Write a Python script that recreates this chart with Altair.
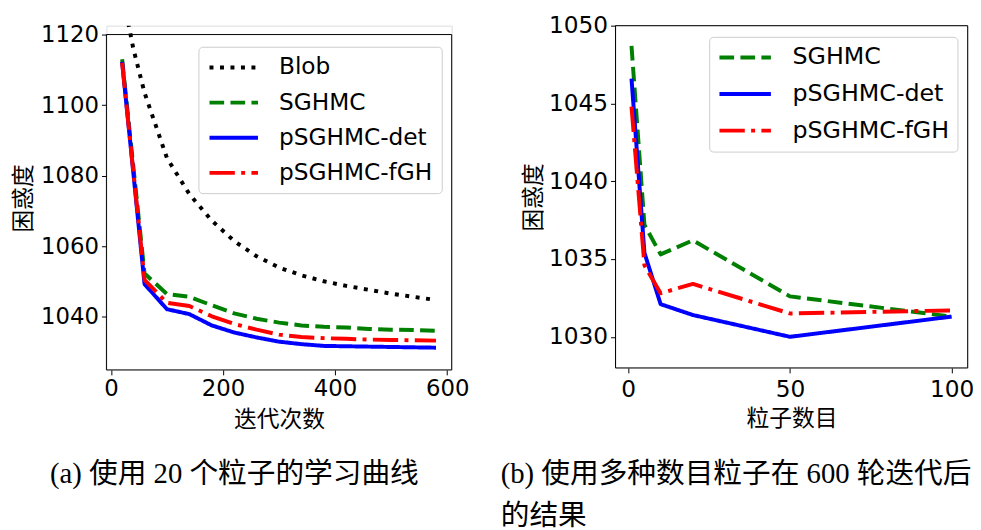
import altair as alt
import pandas as pd

# ---------------- data: panel (a) learning curves with 20 particles ----------------
iters = [20, 60, 100, 140, 180, 220, 260, 300, 340, 380, 420, 460, 500, 540, 580]
blob_iters = [20, 40, 60, 100, 140, 180, 220, 260, 300, 340, 380, 420, 460, 500, 540, 580]
blob_a = [1132, 1116, 1103.5, 1085, 1074.8, 1067.3, 1061.5, 1057.2, 1054, 1051.8,
          1050.1, 1048.8, 1047.7, 1046.6, 1045.7, 1044.8]
sghmc_a = [1113, 1052.3, 1046.5, 1045.7, 1043.3, 1041, 1039.5, 1038.4, 1037.6, 1037.2,
           1037.0, 1036.6, 1036.4, 1036.3, 1036.1]
det_a = [1112.3, 1049.3, 1042.2, 1040.8, 1037.6, 1035.6, 1034.2, 1033.0, 1032.3, 1031.8,
         1031.7, 1031.6, 1031.5, 1031.4, 1031.3]
fgh_a = [1112, 1050.5, 1044, 1043.1, 1040.2, 1038, 1036.4, 1035, 1034.3, 1034.0,
         1033.8, 1033.6, 1033.5, 1033.4, 1033.3]

# ---------------- data: panel (b) different numbers of particles ----------------
particles = [1, 5, 10, 20, 50, 100]
sghmc_b = [1048.7, 1037.2, 1035.3, 1036.2, 1032.6, 1031.3]
det_b = [1046.6, 1035.4, 1032.1, 1031.4, 1030.0, 1031.3]
fgh_b = [1044.8, 1034.6, 1032.8, 1033.4, 1031.5, 1031.7]

series_a = ["Blob", "SGHMC", "pSGHMC-det", "pSGHMC-fGH"]
series_b = ["SGHMC", "pSGHMC-det", "pSGHMC-fGH"]
xticks_a = [0, 200, 400, 600]
yticks_a = [1040, 1060, 1080, 1100, 1120]
xticks_b = [0, 50, 100]
yticks_b = [1030, 1035, 1040, 1045, 1050]

caption_a = ["(a) 使用 20 个粒子的学习曲线"]
caption_b = ["(b) 使用多种数目粒子在 600 轮迭代后", "的结果"]
ytitle = "困惑度"
xtitle_a = "迭代次数"
xtitle_b = "粒子数目"

# ---------------- styles ----------------
color_map = {"Blob": "black", "SGHMC": "green", "pSGHMC-det": "blue", "pSGHMC-fGH": "red"}
dash_map = {"Blob": [4, 6.6], "SGHMC": [14.8, 6.4], "pSGHMC-det": [1, 0],
            "pSGHMC-fGH": [25.6, 6.4, 4, 6.4]}

# ---------------- tables ----------------
rows_a = []
for name, xs, ys in [("Blob", blob_iters, blob_a), ("SGHMC", iters, sghmc_a),
                     ("pSGHMC-det", iters, det_a), ("pSGHMC-fGH", iters, fgh_a)]:
    for x, y in zip(xs, ys):
        rows_a.append({"x": x, "y": y, "series": name})
df_a = pd.DataFrame(rows_a)

rows_b = []
for name, ys in [("SGHMC", sghmc_b), ("pSGHMC-det", det_b), ("pSGHMC-fGH", fgh_b)]:
    for x, y in zip(particles, ys):
        rows_b.append({"x": x, "y": y, "series": name})
df_b = pd.DataFrame(rows_b)

# axis limits (frame)
xlim_a = [-8, 608]
ylim_a = [1025, 1120]
ytop_a = 1122.52  # a little head-room above the frame for the clipped Blob curve
xlim_b = [-3.95, 104.95]
ylim_b = [1028, 1050]

W_A, H_A = 349, 348
W_B, H_B = 356, 346

# legend sample: a horizontal stroke from -r to 4r (r = sqrt(size)/2)
SYMBOL_PATH = "M-1,0H4"

def axis(values, title, label_size, title_pad, label_pad):
    return alt.Axis(values=values, title=title, format="d", tickSize=5, tickColor="black", tickWidth=1,
                    labelFont="DejaVu Sans", labelColor="black", labelFontSize=label_size,
                    labelPadding=label_pad, labelFlush=False, labelOverlap=False,
                    titleFont="Noto Sans CJK SC", titleFontSize=23, titleFontWeight="normal",
                    titleColor="black", titlePadding=title_pad, grid=False, domain=False)

def legend(lx, ly, size, sym_len, row_pad, pad, offset):
    r = sym_len / 5.0
    return alt.Legend(orient="none", legendX=lx, legendY=ly, title=None,
                      labelFontSize=size, labelFont="DejaVu Sans", labelColor="black",
                      symbolType=SYMBOL_PATH, symbolSize=(2 * r) ** 2, symbolStrokeWidth=4,
                      labelOffset=offset + sym_len - 2 * r, padding=pad, rowPadding=row_pad,
                      fillColor="white", strokeColor="#cccccc", cornerRadius=4)

def panel(df, names, xlim, ylim, ytop, xticks, yticks, xtitle, width, height,
          lab_size, leg, ytitle_pad, xlabel_pad, xtitle_pad, captions, cap_x, cap_ys):
    xs = alt.Scale(domain=xlim, nice=False, zero=False)
    ys = alt.Scale(domain=[ylim[0], ytop], nice=False, zero=False)
    xax = axis(xticks, xtitle, lab_size, xtitle_pad, xlabel_pad)
    yax = axis(yticks, ytitle, lab_size, ytitle_pad, 3)
    lines = alt.Chart(df).mark_line(strokeWidth=4, clip=True, strokeJoin="round").encode(
        x=alt.X("x:Q", scale=xs, axis=xax),
        y=alt.Y("y:Q", scale=ys, axis=yax),
        color=alt.Color("series:N", scale=alt.Scale(domain=names, range=[color_map[n] for n in names]),
                        legend=leg),
        strokeDash=alt.StrokeDash("series:N", scale=alt.Scale(domain=names, range=[dash_map[n] for n in names]),
                                  legend=leg),
    )
    frame_df = pd.DataFrame({"x1": [xlim[0]], "x2": [xlim[1]], "y1": [ylim[0]], "y2": [ylim[1]]})
    frame = alt.Chart(frame_df).mark_rect(fill="transparent", stroke="black", strokeWidth=1).encode(
        x=alt.X("x1:Q", scale=xs, axis=xax), x2="x2:Q",
        y=alt.Y("y1:Q", scale=ys, axis=yax), y2="y2:Q",
    )
    layers = [lines, frame]
    for line_text, cy in zip(captions, cap_ys):
        layers.append(alt.Chart(pd.DataFrame({"caption": [line_text]})).mark_text(
            align="left", baseline="top", font="Liberation Serif, Noto Sans CJK SC", fontSize=29,
            color="black",
        ).encode(text="caption:N", x=alt.value(cap_x), y=alt.value(cy)))
    return alt.layer(*layers).properties(width=width, height=height)

left = panel(df_a, series_a, xlim_a, ylim_a, ytop_a, xticks_a, yticks_a, xtitle_a, W_A, H_A, 23,
             legend(93, 21.3, 23.5, 49, 11.5, 9, 19), 5, 3, 8, caption_a, -57, [439])
right = panel(df_b, series_b, xlim_b, ylim_b, ylim_b[1], xticks_b, yticks_b, xtitle_b, W_B, H_B, 23.5,
              legend(94.7, 11.3, 24, 52, 12, 8.3, 19.7), 3, 5, 7, caption_b, -116, [439, 482])

chart = alt.hconcat(left, right, spacing=30.6).resolve_scale(
    color="independent", strokeDash="independent", x="independent", y="independent"
).resolve_legend(color="independent", strokeDash="independent").properties(
    padding={"left": 3.5, "top": 2, "right": -2, "bottom": -3}
).configure_view(stroke=None).configure(font="DejaVu Sans")

chart.save("out.html", embed_options={"renderer": "svg", "actions": False})
